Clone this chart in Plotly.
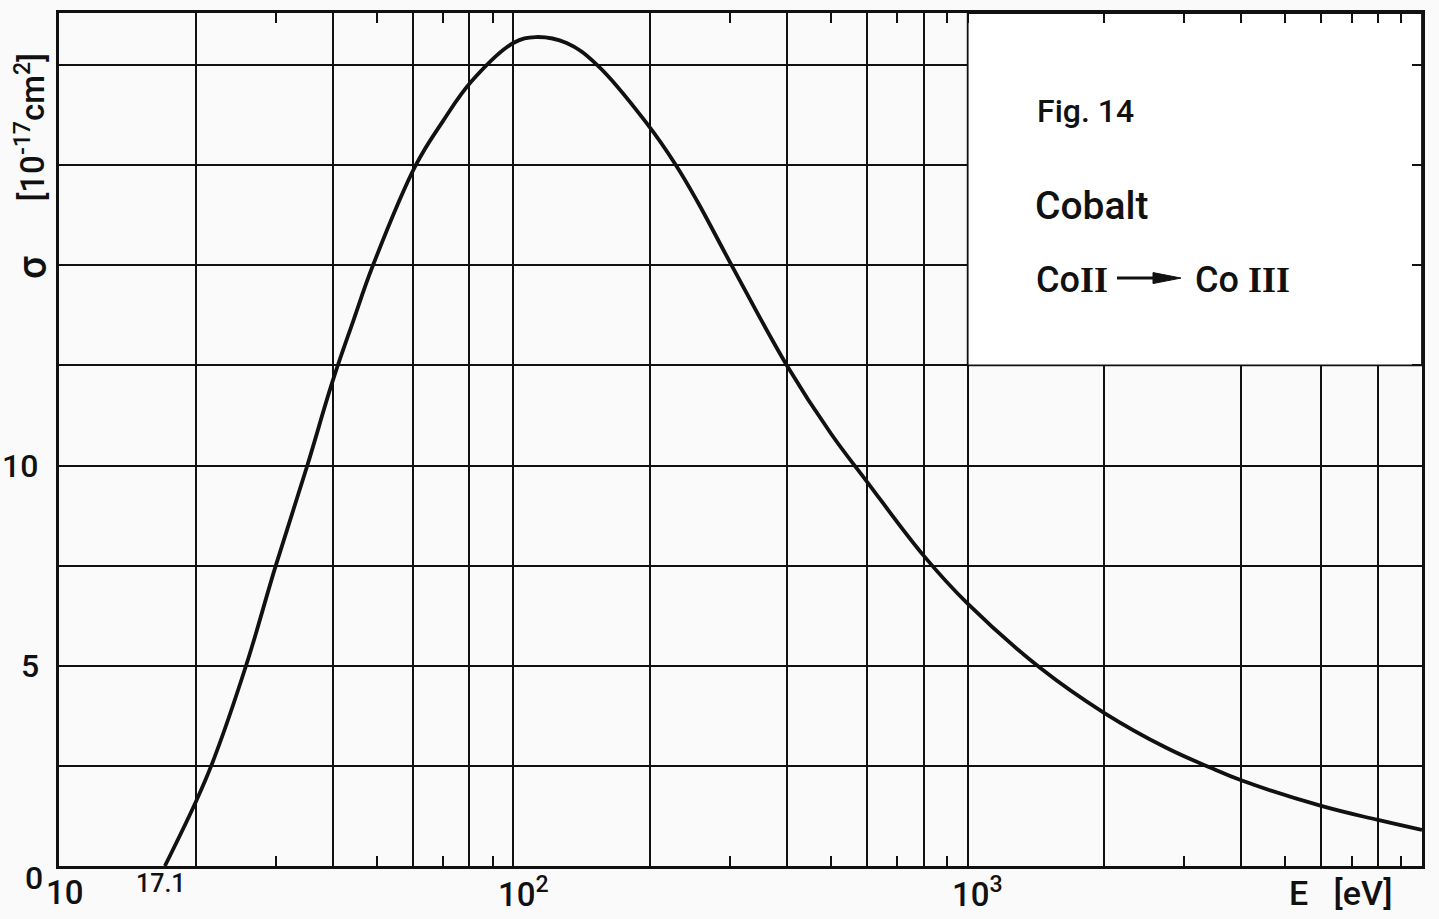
import math
import plotly.graph_objects as go

# Ionization cross section Co II -> Co III versus electron energy
energy_ev = [17.1, 20, 21.8, 25.8, 30, 35.2, 40, 44.4, 49.1, 61, 70, 81,
             100, 112, 131, 153, 198, 228, 254, 304, 400, 500, 600, 800, 1000, 1443,
             2000, 2750, 3450, 4000, 6000, 8000, 10000]
sigma = [0, 1.6, 2.6, 5.0, 7.5, 10.0, 12.1, 13.6, 15.0, 17.5, 18.6, 19.6,
         20.55, 20.7, 20.55, 20.0, 18.5, 17.5, 16.6, 14.95, 12.5, 10.8, 9.6, 7.75, 6.55, 4.95,
         3.82, 2.94, 2.44, 2.14, 1.50, 1.15, 0.90]

x_grid = [20, 40, 60, 80, 100, 200, 400, 600, 800, 1000, 2000, 4000, 6000, 8000]
x_minor = [30, 50, 70, 90, 300, 500, 700, 900, 3000, 5000, 7000, 9000]
y_grid = [2.5, 5, 7.5, 10, 12.5, 15, 17.5, 20]
x_label_vals = [10, 100, 1000]
x_label_text = ["10", "10<sup>2</sup>", "10<sup>3</sup>"]
y_label_vals = [0, 5, 10]
threshold_ev = 17.1

W, H = 1439, 919
ML, MR, MT, MB = 59, 17, 10, 53
PW, PH = W - ML - MR, H - MT - MB
Y_TOP = 21.3

FONT = "Roboto, Liberation Sans, sans-serif"
SERIF = "Liberation Serif, DejaVu Serif, serif"
INK = "#111111"
ROMAN = f"font-family:{SERIF};font-weight:bold"


def px_x(px):
    return (px - ML) / PW


def px_y(py):
    return (H - MB - py) / PH


def text(t, x, y, size, xanchor="center", yanchor="middle", family=FONT, **kw):
    return dict(x=x, y=y, text=t, showarrow=False, xanchor=xanchor, yanchor=yanchor,
                font=dict(family=family, size=size, color=INK, weight=500), **kw)


fig = go.Figure()
fig.add_trace(go.Scatter(
    x=energy_ev, y=sigma, mode="lines",
    line=dict(color=INK, width=3.8, shape="spline", smoothing=1.1),
    hoverinfo="skip", showlegend=False,
))

annotations = []
# x tick labels (annotation x on a log axis is given as log10)
for v, t in zip(x_label_vals, x_label_text):
    annotations.append(text(t, math.log10(v), px_y(893), 33, xref="x", yref="paper",
                            xshift=10 if "sup" in t else 6))
annotations.append(text(str(threshold_ev), math.log10(threshold_ev), px_y(884), 25,
                        xref="x", yref="paper", xshift=-4))
# y tick labels
for v in y_label_vals:
    cx = {0: 34, 5: 30, 10: 20}[v]
    annotations.append(text(str(v), px_x(cx), v, 32, xref="paper", yref="y",
                            yshift=-12 if v == 0 else 0))
# axis titles
annotations.append(text("σ", px_x(32), px_y(266), 40, xref="paper", yref="paper",
                        textangle=-90))
annotations.append(text("[10<sup>-17</sup>cm<sup>2</sup>]", px_x(31), px_y(125), 33,
                        xref="paper", yref="paper", textangle=-90))
annotations.append(text("E   [eV]", px_x(1394), px_y(893), 34, xanchor="right",
                        xref="paper", yref="paper"))
# caption inside the panel
annotations.append(text("Fig. 14", px_x(1035), px_y(108), 32, xanchor="left",
                        xref="paper", yref="paper"))
annotations.append(text("Cobalt", px_x(1033), px_y(204), 39, xanchor="left",
                        xref="paper", yref="paper"))
annotations.append(text(f"Co<span style='{ROMAN}'>II</span>",
                        px_x(1034), px_y(278), 36, xanchor="left",
                        xref="paper", yref="paper"))
annotations.append(text(f"Co <span style='{ROMAN}'>III</span>",
                        px_x(1193), px_y(278), 36, xanchor="left",
                        xref="paper", yref="paper"))

shapes = [
    # caption panel covering the grid in the upper right
    dict(type="rect", xref="x", yref="y", x0=1000, x1=10000, y0=12.5, y1=Y_TOP,
         fillcolor="white", line=dict(color=INK, width=1.8), layer="between"),
    # reaction arrow
    dict(type="line", xref="paper", yref="paper",
         x0=px_x(1117), x1=px_x(1158), y0=px_y(276), y1=px_y(276),
         line=dict(color=INK, width=3)),
    dict(type="path", xref="paper", yref="paper",
         path=f"M {px_x(1153)} {px_y(270.5)} L {px_x(1181)} {px_y(276)} L {px_x(1153)} {px_y(281.5)} Z",
         fillcolor=INK, line=dict(color=INK, width=1)),
]

axis_common = dict(
    showline=True, linecolor=INK, linewidth=3, mirror="ticks",
    ticks="inside", ticklen=10, tickwidth=1.8, tickcolor=INK,
    showticklabels=False, showgrid=True, gridcolor=INK, gridwidth=1.8,
    zeroline=False,
)

fig.update_layout(
    width=W, height=H,
    margin=dict(l=ML, r=MR, t=MT, b=MB),
    paper_bgcolor="#fafafa", plot_bgcolor="#fafafa",
    xaxis=dict(type="log", range=[1, 4], tickvals=x_grid,
               minor=dict(tickvals=x_minor, ticks="inside", ticklen=10, tickwidth=1.8,
                          tickcolor=INK, showgrid=False),
               **axis_common),
    yaxis=dict(range=[0, Y_TOP], tickvals=y_grid, **axis_common),
    annotations=annotations,
    shapes=shapes,
    showlegend=False,
)

fig.write_html("out.html")
